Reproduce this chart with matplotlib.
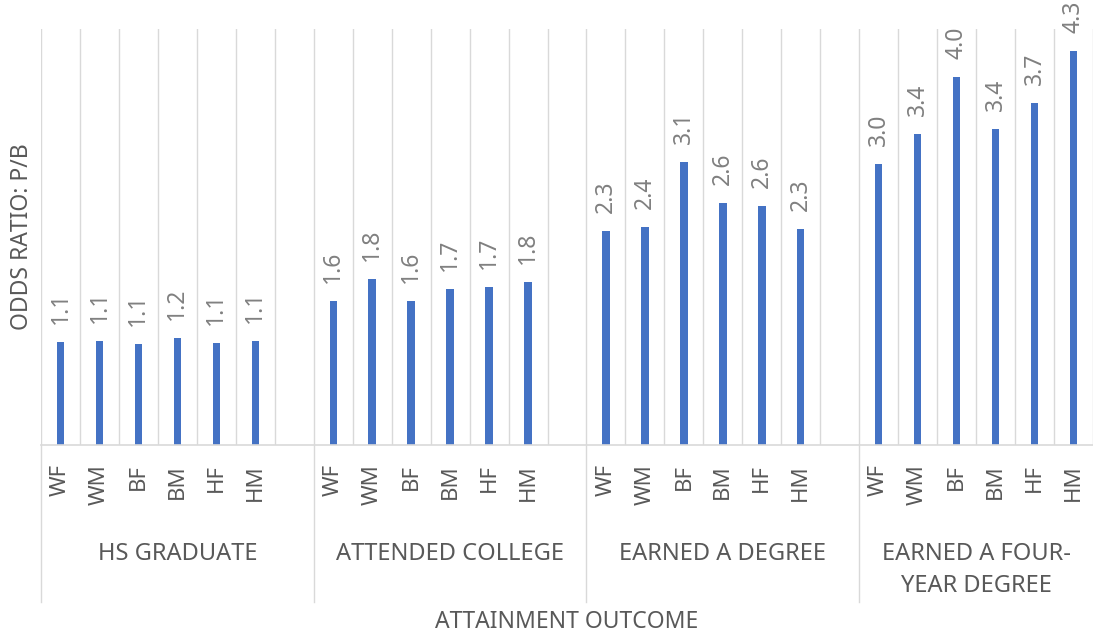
"""
Odds ratio (P/B) by attainment outcome and race/sex subgroup.
Excel-style clustered column chart with multi-level category axis.
"""

import matplotlib
matplotlib.use("Agg")
import matplotlib.pyplot as plt
import matplotlib.transforms as mtransforms
import numpy as np

FONT = "Noto Sans"
LABEL_GREY = "#595959"
VALUE_GREY = "#808080"
GRID_GREY = "#d9d9d9"
BAR_BLUE = "#4472C4"

GROUPS = ["HS GRADUATE", "ATTENDED COLLEGE", "EARNED A DEGREE",
          "EARNED A FOUR-\nYEAR DEGREE"]
SUBGROUPS = ["WF", "WM", "BF", "BM", "HF", "HM"]

HS_GRAD     = [1.11, 1.12, 1.09, 1.16, 1.10, 1.12]
ATTENDED    = [1.56, 1.80, 1.56, 1.69, 1.71, 1.76]
EARNED_DEG  = [2.31, 2.36, 3.06, 2.62, 2.59, 2.34]
EARNED_4YR  = [3.04, 3.36, 3.98, 3.42, 3.70, 4.26]

SERIES = [HS_GRAD, ATTENDED, EARNED_DEG, EARNED_4YR]

W, H = 1093, 640


def main():
    fig = plt.figure(figsize=(W / 100, H / 100), dpi=100)
    ax = fig.add_axes([41 / W, (H - 445) / H, (W - 41) / W, (445 - 29) / H])

    # each group takes 7 slots (6 bars + blank) except the last one
    n_slots = 7 * (len(GROUPS) - 1) + len(SUBGROUPS)
    ax.set_xlim(0, n_slots)
    ax.set_ylim(0, 4.5)

    for k in range(n_slots + 1):
        ax.axvline(k, color=GRID_GREY, linewidth=1, zorder=0)

    trans = mtransforms.blended_transform_factory(ax.transData, ax.transAxes)

    for g, (group, values) in enumerate(zip(GROUPS, SERIES)):
        start = 7 * g
        x = start + np.arange(len(values)) + 0.5
        ax.bar(x, values, width=0.19, color=BAR_BLUE, zorder=2)

        for xi, v in zip(x, values):
            ax.annotate(f"{v:.1f}", (xi, v), xytext=(0, 13), textcoords="offset points",
                        rotation=90, ha="center", va="bottom", color=VALUE_GREY,
                        fontsize=16.5, family=FONT)

        for xi, lab in zip(x, SUBGROUPS):
            ax.text(xi, -0.046, lab, transform=trans, rotation=90, ha="center", va="top",
                    color=LABEL_GREY, fontsize=16, family=FONT)

        # group separator running down through the category area
        ax.plot([start, start], [0, -0.377], transform=trans, color=GRID_GREY,
                linewidth=1, clip_on=False)

        span = 7 if g < len(GROUPS) - 1 else len(SUBGROUPS)
        ax.text(start + span / 2, -0.232, group, transform=trans, ha="center", va="top",
                color=LABEL_GREY, fontsize=17, family=FONT, linespacing=1.45)

    for side in ["top", "right", "left"]:
        ax.spines[side].set_visible(False)
    ax.spines["bottom"].set_color(GRID_GREY)
    ax.spines["bottom"].set_linewidth(1.2)
    ax.set_xticks([])
    ax.set_yticks([])

    fig.text(22 / W, 1 - 237 / H, "ODDS RATIO: P/B", rotation=90, ha="center",
             va="center", color=LABEL_GREY, fontsize=16.5, family=FONT)
    fig.text(567 / W, 1 - 622 / H, "ATTAINMENT OUTCOME", ha="center", va="center",
             color=LABEL_GREY, fontsize=16.5, family=FONT)

    fig.savefig("out.png", dpi=100)
    plt.close(fig)


if __name__ == "__main__":
    main()
